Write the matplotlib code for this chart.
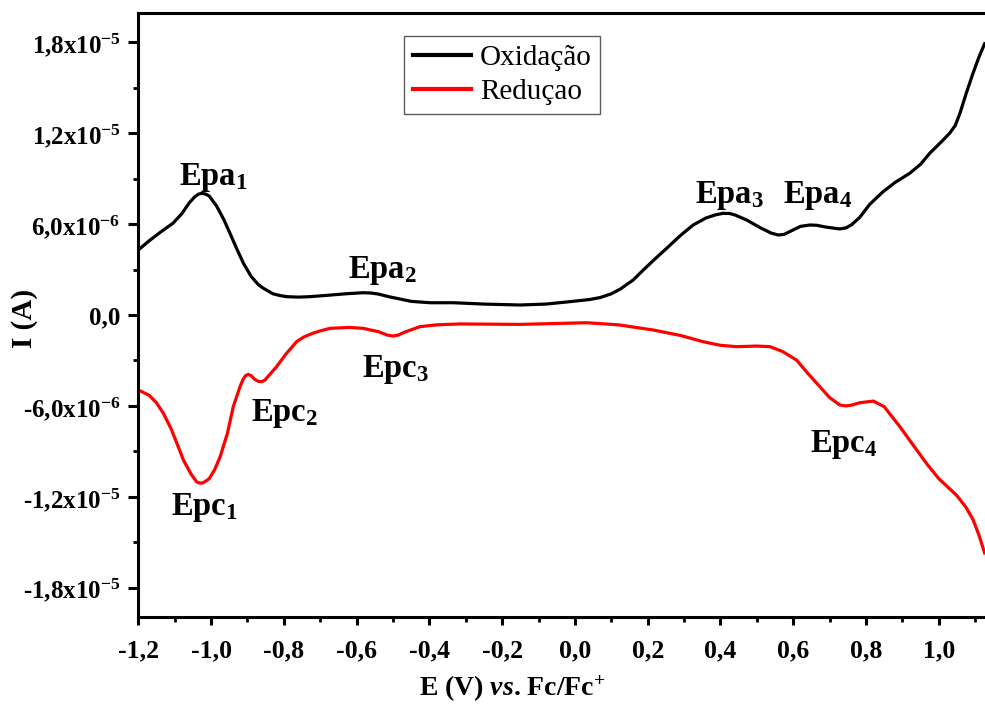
import numpy as np
import matplotlib
matplotlib.use("Agg")
import matplotlib.pyplot as plt
from matplotlib.ticker import FixedLocator, FuncFormatter, MultipleLocator

# Potential (V vs. Fc/Fc+) and current (in units of 1e-6 A)
ox_potential = [-1.200, -1.170, -1.140, -1.104, -1.080, -1.060, -1.045, -1.035, -1.026, -1.015,
                -1.005, -0.985, -0.965, -0.948, -0.930, -0.911, -0.890, -0.870, -0.856, -0.830,
                -0.810, -0.792, -0.760, -0.728, -0.680, -0.630, -0.582, -0.560, -0.540, -0.510,
                -0.490, -0.450, -0.398, -0.334, -0.250, -0.151, -0.080, -0.014, 0.040, 0.069,
                0.100, 0.124, 0.160, 0.188, 0.220, 0.252, 0.290, 0.325, 0.360, 0.385,
                0.407, 0.425, 0.440, 0.472, 0.510, 0.540, 0.559, 0.575, 0.590, 0.620,
                0.646, 0.665, 0.690, 0.728, 0.745, 0.760, 0.783, 0.810, 0.847, 0.880,
                0.920, 0.950, 0.975, 1.010, 1.030, 1.045, 1.058, 1.075, 1.094, 1.110, 1.126]
ox_current = [4.29, 4.90, 5.45, 6.07, 6.70, 7.40, 7.80, 7.97, 8.03, 7.98,
              7.85, 7.20, 6.30, 5.39, 4.40, 3.41, 2.55, 2.00, 1.76, 1.40,
              1.28, 1.21, 1.18, 1.21, 1.30, 1.40, 1.47, 1.45, 1.38, 1.20,
              1.10, 0.90, 0.81, 0.81, 0.72, 0.66, 0.72, 0.88, 1.02, 1.15,
              1.40, 1.70, 2.31, 2.97, 3.70, 4.40, 5.25, 5.94, 6.40, 6.60,
              6.71, 6.70, 6.60, 6.27, 5.75, 5.40, 5.28, 5.32, 5.50, 5.85,
              5.94, 5.92, 5.80, 5.68, 5.75, 5.95, 6.45, 7.30, 8.14, 8.75,
              9.35, 9.95, 10.67, 11.50, 12.00, 12.50, 13.30, 14.60, 15.95, 17.00, 17.90]

red_potential = [-1.200, -1.170, -1.150, -1.131, -1.110, -1.090, -1.076, -1.055, -1.040, -1.033,
                 -1.026, -1.018, -1.005, -0.990, -0.975, -0.955, -0.939, -0.920, -0.912, -0.905,
                 -0.898, -0.890, -0.880, -0.870, -0.861, -0.852, -0.845, -0.820, -0.795, -0.765,
                 -0.745, -0.720, -0.700, -0.673, -0.620, -0.582, -0.540, -0.515, -0.499, -0.485,
                 -0.470, -0.426, -0.380, -0.316, -0.151, 0.032, 0.120, 0.215, 0.290, 0.352,
                 0.400, 0.444, 0.500, 0.536, 0.570, 0.609, 0.640, 0.673, 0.700, 0.728,
                 0.745, 0.760, 0.783, 0.820, 0.850, 0.893, 0.930, 0.966, 1.000, 1.049,
                 1.075, 1.094, 1.110, 1.126]
red_current = [-4.95, -5.30, -5.80, -6.49, -7.50, -8.70, -9.57, -10.50, -11.00, -11.08,
               -11.10, -11.02, -10.80, -10.20, -9.35, -7.80, -6.05, -4.70, -4.25, -4.00,
               -3.92, -4.00, -4.25, -4.38, -4.40, -4.30, -4.10, -3.41, -2.60, -1.76,
               -1.45, -1.20, -1.05, -0.88, -0.82, -0.88, -1.10, -1.33, -1.39, -1.32,
               -1.15, -0.77, -0.65, -0.59, -0.62, -0.51, -0.65, -0.99, -1.35, -1.76,
               -2.00, -2.09, -2.05, -2.09, -2.40, -2.97, -3.85, -4.73, -5.45, -5.94,
               -6.00, -5.95, -5.79, -5.68, -6.05, -7.37, -8.60, -9.79, -10.80, -11.90,
               -12.70, -13.50, -14.50, -15.70]

series_labels = ["Oxidação", "Reduçao"]

# Peak labels: (text, subscript, potential, current in 1e-6 A)
peak_labels = [("Epa", "1", -1.088, 8.58), ("Epa", "2", -0.623, 2.42),
               ("Epa", "3", 0.330, 7.41), ("Epa", "4", 0.571, 7.41),
               ("Epc", "1", -1.111, -13.2), ("Epc", "2", -0.891, -6.98),
               ("Epc", "3", -0.584, -4.07), ("Epc", "4", 0.646, -9.04)]

y_ticks = [-1.8e-5, -1.2e-5, -6e-6, 0.0, 6e-6, 1.2e-5, 1.8e-5]
x_ticks = [-1.2, -1.0, -0.8, -0.6, -0.4, -0.2, 0.0, 0.2, 0.4, 0.6, 0.8, 1.0]

plt.rcParams["font.family"] = ["Liberation Serif", "DejaVu Serif"]
plt.rcParams["mathtext.fontset"] = "custom"
plt.rcParams["mathtext.rm"] = "Liberation Serif:bold"
plt.rcParams["mathtext.bf"] = "Liberation Serif:bold"
plt.rcParams["mathtext.it"] = "Liberation Serif:italic:bold"
plt.rcParams["mathtext.default"] = "rm"
plt.rcParams["axes.unicode_minus"] = False

W, H = 985, 704
fig = plt.figure(figsize=(W / 100, H / 100), dpi=100)
left, right, top, bottom = 138.3, 985, 13, 617
ax = fig.add_axes([left / W, 1 - bottom / H, (right - left) / W, (bottom - top) / H])

scale = 1e-6
ax.plot(ox_potential, np.array(ox_current) * scale, color="black", lw=2.3,
        label=series_labels[0], solid_joinstyle="round")
ax.plot(red_potential, np.array(red_current) * scale, color="#ff0000", lw=2.3,
        label=series_labels[1], solid_joinstyle="round")

ax.set_xlim(-1.2, 1.127)
ax.set_ylim(-1.993e-5, 1.993e-5)

for side in ["left", "bottom", "top"]:
    ax.spines[side].set_linewidth(2.2)
ax.spines["right"].set_visible(False)

ax.xaxis.set_major_locator(FixedLocator(x_ticks))
ax.xaxis.set_minor_locator(MultipleLocator(0.1))
ax.yaxis.set_major_locator(FixedLocator(y_ticks))
ax.yaxis.set_minor_locator(MultipleLocator(3e-6))


def fmt_x(v, pos):
    return f"{v:.1f}".replace(".", ",")


def fmt_y(v, pos):
    if abs(v) < 1e-12:
        return "0,0"
    exp = int(np.floor(np.log10(abs(v)) + 1e-9))
    mant = v / 10 ** exp
    return f"{mant:.1f}".replace(".", ",") + "x10$^{" + str(exp) + "}$"


ax.xaxis.set_major_formatter(FuncFormatter(fmt_x))
ax.yaxis.set_major_formatter(FuncFormatter(fmt_y))

ax.tick_params(axis="both", which="major", direction="out", width=2.2)
ax.tick_params(axis="y", which="major", length=7.2, pad=5.5, labelsize=18)
ax.tick_params(axis="x", which="major", length=6, pad=10, labelsize=18.5)
ax.tick_params(axis="both", which="minor", direction="out", width=2.0, length=3.5)
for lab in ax.get_xticklabels() + ax.get_yticklabels():
    lab.set_fontweight("bold")

for base, sub, xv, yv in peak_labels:
    ax.text(xv, yv * scale, base + "$_{" + sub + "}$", fontsize=23.5, fontweight="bold",
            ha="left", va="baseline")

fig.text(512 / W, 1 - 696 / H, r"E (V) $\mathit{vs}$. Fc/Fc$^{+}$", fontsize=20,
         fontweight="bold", ha="center", va="baseline")
fig.text(24 / W, 1 - 318 / H, "I (A)", fontsize=21, fontweight="bold",
         rotation=90, ha="center", va="center")

leg = ax.legend(loc="upper left", bbox_to_anchor=(404 / W, 1 - 36 / H),
                bbox_transform=fig.transFigure, frameon=True, fancybox=False,
                edgecolor="#333333", fontsize=21, handlelength=2.0, handletextpad=0.3,
                labelspacing=0.25, borderpad=0.3, borderaxespad=0)
leg.get_frame().set_linewidth(1.0)
for line in leg.get_lines():
    line.set_linewidth(3)

fig.savefig("out.png", dpi=100)
